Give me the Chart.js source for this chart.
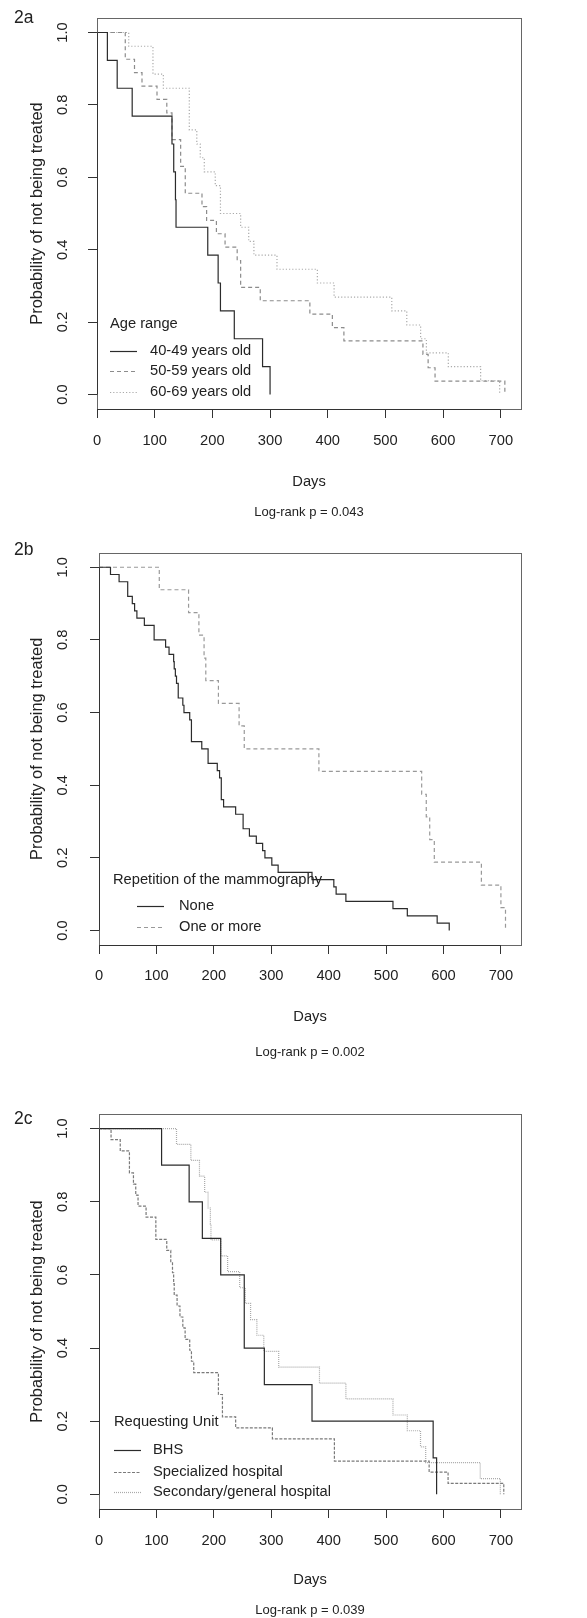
<!DOCTYPE html>
<html>
<head>
<meta charset="utf-8">
<script src="https://cdn.jsdelivr.net/npm/chart.js@4.4.1/dist/chart.umd.min.js"></script>
<style>
  html, body { margin: 0; padding: 0; background: #fff; }
  .panel { position: absolute; left: 0; width: 587px; }
</style>
</head>
<body>
<div class="panel" style="top:0;height:535px"><canvas id="chartA"></canvas></div>
<div class="panel" style="top:535px;height:561px"><canvas id="chartB"></canvas></div>
<div class="panel" style="top:1096px;height:522px"><canvas id="chartC"></canvas></div>
<script>
// axis ticks shared by the three panels
const dayTicks = [0, 100, 200, 300, 400, 500, 600, 700];
const probTicks = [0, 0.2, 0.4, 0.6, 0.8, 1.0];

// 2a - age range
const age40Days = [0, 18, 35, 61, 130, 133, 136, 137, 192, 210, 214, 238, 287, 300];
const age40Surv = [1, 0.923, 0.846, 0.769, 0.692, 0.615, 0.538, 0.462, 0.385, 0.308, 0.231, 0.154, 0.077, 0];
const age50Days = [0, 49, 65, 78, 104, 121, 130, 145, 153, 182, 190, 207, 222, 243, 249, 283, 369, 408, 428, 565, 574, 586, 707];
const age50Surv = [1, 0.926, 0.889, 0.852, 0.815, 0.778, 0.704, 0.630, 0.556, 0.519, 0.481, 0.444, 0.407, 0.370, 0.296, 0.259, 0.222, 0.185, 0.148, 0.111, 0.074, 0.037, 0];
const age60Days = [0, 55, 97, 115, 160, 173, 179, 186, 205, 214, 249, 263, 272, 312, 382, 411, 511, 537, 561, 571, 609, 665, 698];
const age60Surv = [1, 0.962, 0.885, 0.846, 0.731, 0.692, 0.654, 0.615, 0.577, 0.500, 0.462, 0.423, 0.385, 0.346, 0.308, 0.269, 0.231, 0.192, 0.154, 0.115, 0.077, 0.038, 0];

// 2b - repetition of the mammography
const noneDays = [0, 20, 35, 50, 58, 62, 66, 79, 96, 116, 122, 130, 131, 133, 135, 138, 146, 148, 158, 161, 179, 190, 206, 210, 213, 217, 238, 251, 262, 274, 285, 289, 301, 312, 371, 409, 413, 430, 512, 537, 589, 610];
const noneSurv = [1, 0.98, 0.96, 0.92, 0.90, 0.88, 0.86, 0.84, 0.80, 0.78, 0.76, 0.74, 0.72, 0.70, 0.68, 0.64, 0.62, 0.60, 0.58, 0.52, 0.50, 0.46, 0.44, 0.42, 0.36, 0.34, 0.32, 0.28, 0.26, 0.24, 0.22, 0.20, 0.18, 0.16, 0.14, 0.12, 0.10, 0.08, 0.06, 0.04, 0.02, 0];
const moreDays = [0, 105, 156, 174, 183, 186, 208, 244, 253, 383, 562, 570, 576, 584, 666, 700, 708];
const moreSurv = [1, 0.938, 0.875, 0.813, 0.750, 0.688, 0.625, 0.563, 0.500, 0.438, 0.375, 0.313, 0.250, 0.188, 0.125, 0.063, 0];

// 2c - requesting unit
const bhsDays = [0, 109, 157, 180, 212, 253, 288, 371, 582, 588];
const bhsSurv = [1, 0.9, 0.8, 0.7, 0.6, 0.4, 0.3, 0.2, 0.1, 0];
const specDays = [0, 21, 37, 53, 60, 64, 68, 82, 99, 118, 125, 128, 130, 131, 136, 141, 146, 150, 158, 161, 165, 208, 215, 238, 302, 410, 575, 608, 705];
const specSurv = [1, 0.970, 0.939, 0.879, 0.848, 0.818, 0.788, 0.758, 0.697, 0.667, 0.636, 0.606, 0.576, 0.545, 0.515, 0.485, 0.455, 0.424, 0.394, 0.364, 0.333, 0.273, 0.212, 0.182, 0.152, 0.091, 0.061, 0.030, 0];
const secDays = [0, 135, 160, 175, 184, 190, 194, 195, 212, 224, 245, 255, 264, 275, 287, 313, 384, 430, 512, 537, 560, 569, 664, 699];
const secSurv = [1, 0.957, 0.913, 0.870, 0.826, 0.783, 0.739, 0.696, 0.652, 0.609, 0.565, 0.522, 0.478, 0.435, 0.391, 0.348, 0.304, 0.261, 0.217, 0.174, 0.130, 0.087, 0.043, 0];

const FONT = '"Liberation Sans", Arial, Helvetica, sans-serif';
Chart.defaults.font.family = FONT;
Chart.defaults.color = '#222';

function curve(label, days, surv, color, dash) {
  return {
    label: label,
    data: days.map((d, i) => ({ x: d, y: surv[i] })),
    borderColor: color,
    borderWidth: 1.2,
    borderDash: dash,
    stepped: true,
    pointRadius: 0,
    fill: false
  };
}

// box, axis lines, panel letter and an R-style legend
const rDecor = {
  id: 'rDecor',
  afterDraw(chart, args, opts) {
    const { ctx, chartArea: a } = chart;
    const xs = chart.scales.x, ys = chart.scales.y;
    ctx.save();
    ctx.setLineDash([]);
    ctx.lineWidth = 1;
    ctx.strokeStyle = '#666';
    ctx.strokeRect(Math.round(a.left) + 0.5, Math.round(a.top) + 0.5,
      Math.round(a.right - a.left), Math.round(a.bottom - a.top));
    ctx.strokeStyle = '#333';
    ctx.beginPath();
    const by = Math.round(a.bottom) + 0.5;
    ctx.moveTo(xs.getPixelForValue(dayTicks[0]), by);
    ctx.lineTo(xs.getPixelForValue(dayTicks[dayTicks.length - 1]), by);
    const lx = Math.round(a.left) + 0.5;
    ctx.moveTo(lx, ys.getPixelForValue(probTicks[0]));
    ctx.lineTo(lx, ys.getPixelForValue(probTicks[probTicks.length - 1]));
    ctx.stroke();

    ctx.fillStyle = '#222';
    ctx.textAlign = 'left';
    ctx.textBaseline = 'middle';
    ctx.font = '17.5px ' + FONT;
    ctx.fillText(opts.panel, 14, opts.panelY);

    const lg = opts.legend;
    ctx.font = '14.7px ' + FONT;
    ctx.fillText(lg.title, lg.titleX, lg.titleY);
    chart.data.datasets.forEach((ds, i) => {
      const y = lg.rows[i];
      ctx.strokeStyle = ds.borderColor;
      ctx.lineWidth = ds.borderWidth;
      ctx.setLineDash(ds.borderDash || []);
      ctx.beginPath();
      ctx.moveTo(lg.lineX, Math.round(y) + 0.5);
      ctx.lineTo(lg.lineX + lg.lineLen, Math.round(y) + 0.5);
      ctx.stroke();
      ctx.fillText(ds.label, lg.textX, y);
    });
    ctx.restore();
  }
};

function makeChart(id, p, datasets, pText) {
  const subTop = p.pY - 7.8;
  return new Chart(document.getElementById(id), {
    type: 'line',
    data: { datasets: datasets },
    options: {
      responsive: true,
      maintainAspectRatio: false,
      animation: false,
      layout: { padding: { top: p.boxTop, right: 587 - p.right, left: 0, bottom: 0 } },
      plugins: {
        legend: { display: false },
        tooltip: { enabled: false },
        subtitle: {
          display: true, position: 'bottom', fullSize: false,
          text: pText, color: '#222', font: { size: 13 },
          padding: { top: 0, bottom: p.height - p.pY - 7.8 }
        },
        rDecor: { panel: p.panel, panelY: p.panelY, legend: p.legend }
      },
      scales: {
        x: {
          type: 'linear', min: 0, max: 735,
          afterBuildTicks: s => { s.ticks = dayTicks.map(v => ({ value: v })); },
          afterFit: s => { s.height = subTop - p.boxBottom; s.paddingLeft = 0; s.paddingRight = 0; },
          grid: { drawOnChartArea: false, drawTicks: true, tickLength: 9, color: '#333' },
          border: { display: false },
          ticks: { autoSkip: false, maxRotation: 0, color: '#222', font: { size: 14.7 },
                   padding: p.tickY - p.boxBottom - 9 - 8.82 },
          title: { display: true, text: 'Days', color: '#222', font: { size: 14.7 },
                   padding: { top: 0, bottom: subTop - p.daysY - 8.82 } }
        },
        y: {
          min: -0.04, max: 1.04,
          afterBuildTicks: s => { s.ticks = probTicks.map(v => ({ value: v })); },
          afterFit: s => { s.width = p.left; s.paddingTop = 0; s.paddingBottom = 0; },
          grid: { drawOnChartArea: false, drawTicks: true, tickLength: 9, color: '#333' },
          border: { display: false },
          ticks: { autoSkip: false, minRotation: 90, maxRotation: 90, crossAlign: 'center',
                   color: '#222', font: { size: 14.7 }, padding: p.left - 82.5,
                   callback: v => Number(v).toFixed(1) },
          title: { display: true, text: 'Probability of not being treated', color: '#222',
                   font: { size: 16.4 }, padding: { top: 27.7, bottom: 0 } }
        }
      }
    },
    plugins: [rDecor]
  });
}

makeChart('chartA', {
  height: 535, boxTop: 18, boxBottom: 409, left: 97, right: 521,
  tickY: 441, daysY: 482, pY: 512, panel: '2a', panelY: 18,
  legend: { title: 'Age range', titleX: 110, titleY: 324, lineX: 110, lineLen: 27, textX: 150, rows: [351, 371, 392] }
}, [
  curve('40-49 years old', age40Days, age40Surv, '#2b2b2b', []),
  curve('50-59 years old', age50Days, age50Surv, '#8c8c8c', [4, 3]),
  curve('60-69 years old', age60Days, age60Surv, '#aaaaaa', [1.2, 2])
], 'Log-rank p = 0.043');

makeChart('chartB', {
  height: 561, boxTop: 17.7, boxBottom: 410, left: 99, right: 521,
  tickY: 440.7, daysY: 481.7, pY: 517.3, panel: '2b', panelY: 15,
  legend: { title: 'Repetition of the mammography', titleX: 113, titleY: 345, lineX: 137, lineLen: 27, textX: 179, rows: [371, 392] }
}, [
  curve('None', noneDays, noneSurv, '#2b2b2b', []),
  curve('One or more', moreDays, moreSurv, '#999999', [4, 3])
], 'Log-rank p = 0.002');

makeChart('chartC', {
  height: 522, boxTop: 18, boxBottom: 413, left: 99, right: 521,
  tickY: 444.7, daysY: 484.4, pY: 514.4, panel: '2c', panelY: 23,
  legend: { title: 'Requesting Unit', titleX: 114, titleY: 326, lineX: 114, lineLen: 27, textX: 153, rows: [354, 375.7, 395.7] }
}, [
  curve('BHS', bhsDays, bhsSurv, '#2b2b2b', []),
  curve('Specialized hospital', specDays, specSurv, '#7a7a7a', [3, 1.5]),
  curve('Secondary/general hospital', secDays, secSurv, '#aaaaaa', [1, 1])
], 'Log-rank p = 0.039');
</script>
</body>
</html>
